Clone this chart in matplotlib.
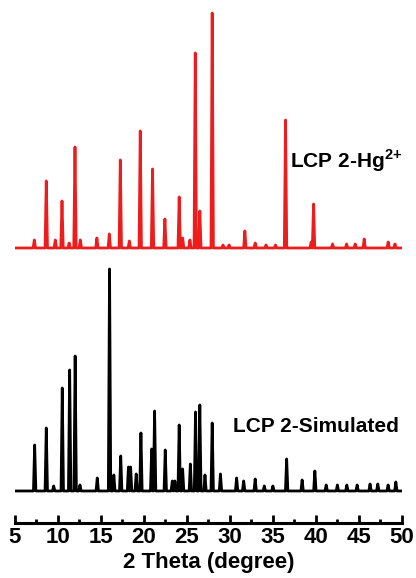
import numpy as np
import matplotlib
matplotlib.use("Agg")
import matplotlib.pyplot as plt

plt.rcParams['font.family'] = ['Liberation Sans', 'DejaVu Sans']
plt.rcParams['font.weight'] = 'bold'
plt.rcParams['mathtext.fontset'] = 'custom'
plt.rcParams['mathtext.rm'] = 'Liberation Sans'
plt.rcParams['mathtext.bf'] = 'Liberation Sans:bold'

# peak positions (2 theta) and heights
hg_pos = [7.25, 8.64, 9.69, 10.47, 11.3, 11.98, 12.6, 14.53, 15.97, 17.25, 18.3,
          19.57, 21.0, 22.44, 24.1, 24.5, 25.35, 25.97, 26.5, 27.94, 29.2, 29.9,
          31.74, 32.94, 34.2, 35.3, 36.47, 39.45, 39.73, 41.94, 43.57, 44.57,
          45.62, 48.41, 49.2]
hg_int = [8, 67, 8, 47, 5, 101, 8, 10, 14, 88, 7, 117, 79, 29, 51, 10, 8, 195,
          37, 235, 3, 3, 17, 5, 3, 3, 128, 6, 44, 4, 4, 4, 9, 6, 4]

sim_pos = [7.29, 8.64, 9.5, 10.5, 11.36, 12.0, 12.56, 14.57, 16.0, 16.5, 17.3,
           18.2, 18.45, 19.1, 19.65, 20.9, 21.24, 22.48, 23.3, 23.6, 24.1, 24.5,
           25.4, 26.0, 26.5, 27.1, 27.94, 28.9, 30.78, 31.6, 32.94, 34.0, 35.0,
           36.6, 38.4, 39.88, 41.2, 42.5, 43.6, 44.8, 46.3, 47.2, 48.4, 49.3]
sim_int = [46, 63, 5, 103, 121, 135, 6, 13, 222, 16, 35, 24, 24, 17, 58, 42, 80,
           41, 10, 10, 66, 22, 27, 79, 86, 16, 68, 17, 13, 10, 12, 5, 5, 32, 11,
           20, 6, 6, 6, 6, 7, 7, 6, 9]

hg_offset = 275
sim_offset = 32
w = 0.14


def trace(pos, inten, base):
    xs = [5.0]
    ys = [base]
    for p, h in zip(pos, inten):
        xs += [p - w, p, p + w]
        ys += [base, base + h, base]
    xs.append(50.0)
    ys.append(base)
    return xs, ys


fig = plt.figure(figsize=(4.16, 5.78), dpi=100)
ax = fig.add_axes([0.036, 0.0952, 0.930, 0.891])

x, y = trace(hg_pos, hg_int, hg_offset)
ax.plot(x, y, color='#ee1c1c', lw=2, solid_joinstyle='round')
x, y = trace(sim_pos, sim_int, sim_offset)
ax.plot(x, y, color='black', lw=2, solid_joinstyle='round')

ax.text(37.0, 355, r'LCP 2-Hg$^{\mathbf{2\!+}}$', fontsize=15, fontweight='bold', va='baseline')
ax.text(30.35, 91, 'LCP 2-Simulated', fontsize=15, fontweight='bold', va='baseline')

ax.set_xlim(5, 50)
ax.set_ylim(0, 515)
ax.set_xticks(np.arange(5, 51, 5))
ax.set_xticks(np.arange(7.5, 50, 5), minor=True)
ax.set_yticks([])
for s in ['left', 'right', 'top']:
    ax.spines[s].set_visible(False)
ax.spines['bottom'].set_linewidth(2.2)
ax.tick_params(axis='x', which='major', direction='in', length=6, width=2, pad=3, labelsize=16)
ax.tick_params(axis='x', which='minor', direction='in', length=3, width=2)
ax.set_xlabel('2 Theta (degree)', fontsize=16, fontweight='bold', labelpad=3)

fig.savefig('out.png', dpi=100)
